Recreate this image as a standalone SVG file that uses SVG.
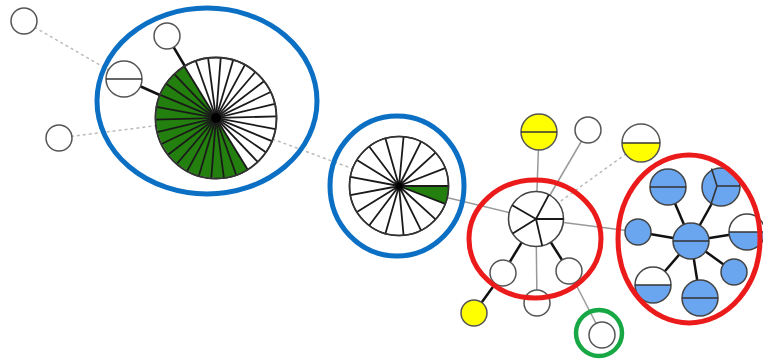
<svg xmlns="http://www.w3.org/2000/svg" width="763" height="362" viewBox="0 0 763 362">
<style>
.n{fill:#fff;stroke:#555;stroke-width:1.5}
.pie{fill:#fff;stroke:#222;stroke-width:1.5}
.sp{stroke:#1a1a1a;stroke-width:1.8;fill:none}
.grn{fill:#23800e;stroke:none}
.blu{fill:#6aa6ef;stroke:none}
.yel{fill:#ffff00;stroke:none}
.mid{stroke:#333;stroke-width:1.6}
.g{stroke:#999;stroke-width:1.5;fill:none}
.d{stroke:#bbb;stroke-width:1.5;stroke-dasharray:3 3;fill:none}
.k{stroke:#111;stroke-width:2.5;fill:none}
.bring{fill:none;stroke:#0b6fc4;stroke-width:5}
.rring{fill:none;stroke:#ec1b1b;stroke-width:5}
.gring{fill:none;stroke:#17a845;stroke-width:4.5}
</style>
<rect width="763" height="362" fill="#fff"/>
<g id="connectors">
<line class="d" x1="24" y1="21" x2="124" y2="79"/>
<line class="d" x1="59" y1="138" x2="216" y2="118"/>
<line class="d" x1="216" y1="118" x2="399" y2="186"/>
<line class="d" x1="641" y1="143" x2="536" y2="219"/>
<line class="g" x1="399" y1="186" x2="536" y2="219"/>
<line class="g" x1="539" y1="132" x2="536" y2="219"/>
<line class="g" x1="588" y1="130" x2="536" y2="219"/>
<line class="g" x1="536" y1="219" x2="638" y2="232"/>
<line class="g" x1="536" y1="219" x2="537" y2="303"/>
<line class="g" x1="569" y1="271" x2="602" y2="335"/>
<line class="k" x1="167" y1="36" x2="186" y2="68"/>
<line class="k" x1="124" y1="79" x2="162" y2="96"/>
<line class="k" x1="536" y1="219" x2="503" y2="273"/>
<line class="k" x1="536" y1="219" x2="569" y2="271"/>
<line class="k" x1="503" y1="273" x2="474" y2="313"/>
<line class="k" x1="691" y1="241" x2="668" y2="187"/>
<line class="k" x1="691" y1="241" x2="721" y2="187"/>
<line class="k" x1="691" y1="241" x2="747" y2="232"/>
<line class="k" x1="691" y1="241" x2="638" y2="232"/>
<line class="k" x1="691" y1="241" x2="734" y2="272"/>
<line class="k" x1="691" y1="241" x2="700" y2="298"/>
<line class="k" x1="691" y1="241" x2="653" y2="285"/>
</g>
<g id="n-topleft"><circle class="n" cx="24" cy="21" r="13"/></g>
<g id="n-left"><circle class="n" cx="59" cy="138" r="13"/></g>
<g id="n-top1"><circle class="n" cx="167" cy="36" r="13"/></g>
<g id="n-half1"><circle class="n" cx="124" cy="79" r="18"/><line class="mid" x1="106" y1="79" x2="142" y2="79"/></g>
<g id="pie1">
<circle class="pie" cx="216" cy="118" r="60.5"/>
<path class="grn" d="M216,118 L184.39,66.42 A60.5,60.5 0 0 0 247.61,169.58 Z"/>
<g class="sp">
<line x1="276.48" y1="116.42" x2="155.52" y2="119.58"/>
<line x1="274.83" y1="103.88" x2="157.17" y2="132.12"/>
<line x1="270.61" y1="91.95" x2="161.39" y2="144.05"/>
<line x1="264.00" y1="81.17" x2="168.00" y2="154.83"/>
<line x1="255.29" y1="72.00" x2="176.71" y2="164.00"/>
<line x1="244.87" y1="64.83" x2="187.13" y2="171.17"/>
<line x1="233.18" y1="59.99" x2="198.82" y2="176.01"/>
<line x1="220.75" y1="57.69" x2="211.25" y2="178.31"/>
<line x1="208.10" y1="58.02" x2="223.90" y2="177.98"/>
<line x1="195.80" y1="60.97" x2="236.20" y2="175.03"/>
<line x1="184.39" y1="66.42" x2="247.61" y2="169.58"/>
<line x1="174.35" y1="74.12" x2="257.65" y2="161.88"/>
<line x1="166.14" y1="83.73" x2="265.86" y2="152.27"/>
<line x1="160.11" y1="94.85" x2="271.89" y2="141.15"/>
<line x1="156.51" y1="106.97" x2="275.49" y2="129.03"/>
</g>
<circle cx="216" cy="118" r="60.5" fill="none" stroke="#333" stroke-width="1.8"/>
<circle cx="216" cy="118" r="5" fill="#000"/>
</g>
<g id="pie2">
<circle class="pie" cx="399" cy="186" r="49.5"/>
<path class="grn" d="M399,186 L448.5,186 A49.5,49.5 0 0 1 445.16,203.88 Z"/>
<path class="sp" stroke-width="1.6" d="M399,186 L448.5,186 M399,186 L445.16,168.12 M399,186 L435.58,152.65 M399,186 L421.06,141.69 M399,186 L403.57,136.71 M399,186 L385.45,138.39 M399,186 L369.17,146.50 M399,186 L356.91,159.94 M399,186 L350.34,176.90 M399,186 L350.34,195.10 M399,186 L356.91,212.06 M399,186 L369.17,225.50 M399,186 L385.45,233.61 M399,186 L403.57,235.29 M399,186 L421.06,230.31 M399,186 L435.58,219.35 M399,186 L445.16,203.88"/>
<circle cx="399" cy="186" r="49.5" fill="none" stroke="#333" stroke-width="1.6"/>
<circle cx="399" cy="186" r="3.5" fill="#000"/>
</g>
<g id="pie3">
<circle cx="536" cy="219" r="27.5" fill="#fff" stroke="#444" stroke-width="1.6"/>
<path class="sp" stroke-width="1.5" d="M536,219 L548.9,194.7 M536,219 L563.5,219 M536,219 L542.2,245.8 M536,219 L512.7,233.6 M536,219 L512.2,205.2"/>
</g>
<g id="n-yhalf-top"><circle cx="539" cy="132" r="18" fill="#ffff00" stroke="#555" stroke-width="1.5"/><line class="mid" x1="521" y1="132" x2="557" y2="132"/></g>
<g id="n-top-white"><circle class="n" cx="588" cy="130" r="13"/></g>
<g id="n-yhalf-right"><circle cx="641" cy="143" r="19" fill="#fff"/><path class="yel" d="M622,143 A19,19 0 0 0 660,143 Z"/><circle cx="641" cy="143" r="19" fill="none" stroke="#555" stroke-width="1.5"/><line class="mid" x1="622" y1="143" x2="660" y2="143"/></g>
<g id="n-bl"><circle class="n" cx="503" cy="273" r="13"/></g>
<g id="n-bm"><circle class="n" cx="537" cy="303" r="13"/></g>
<g id="n-br"><circle class="n" cx="569" cy="271" r="13"/></g>
<g id="n-yellow"><circle cx="474" cy="313" r="13" fill="#ffff00" stroke="#555" stroke-width="1.5"/></g>
<g id="n-green"><circle class="n" cx="602" cy="335" r="13"/></g>
<g id="b-center"><circle cx="691" cy="241" r="18" fill="#6aa6ef" stroke="#444" stroke-width="1.5"/><line class="mid" x1="673" y1="241" x2="709" y2="241"/></g>
<g id="b-tl"><circle cx="668" cy="187" r="18" fill="#6aa6ef" stroke="#444" stroke-width="1.5"/><line class="mid" x1="650" y1="187" x2="686" y2="187"/></g>
<g id="b-tr"><circle cx="721" cy="187" r="19" fill="#6aa6ef" stroke="#444" stroke-width="1.5"/><path class="mid" fill="none" d="M717,186 L711.5,168.5 M717,186 L740,186 M717,186 L710.5,205.5"/></g>
<g id="b-r"><circle cx="747" cy="232" r="18" fill="#fff"/><path class="blu" d="M729,232 A18,18 0 0 0 765,232 Z"/><circle cx="747" cy="232" r="18" fill="none" stroke="#444" stroke-width="1.5"/><line class="mid" x1="729" y1="232" x2="765" y2="232"/></g>
<g id="b-l"><circle cx="638" cy="232" r="13" fill="#6aa6ef" stroke="#444" stroke-width="1.5"/></g>
<g id="b-br"><circle cx="734" cy="272" r="13" fill="#6aa6ef" stroke="#444" stroke-width="1.5"/></g>
<g id="b-b"><circle cx="700" cy="298" r="18" fill="#6aa6ef" stroke="#444" stroke-width="1.5"/><line class="mid" x1="682" y1="298" x2="718" y2="298"/></g>
<g id="b-bl"><circle cx="653" cy="285" r="18" fill="#fff"/><path class="blu" d="M635,285 A18,18 0 0 0 671,285 Z"/><circle cx="653" cy="285" r="18" fill="none" stroke="#444" stroke-width="1.5"/><line class="mid" x1="635" y1="285" x2="671" y2="285"/></g>
<g id="highlights">
<ellipse class="bring" cx="207" cy="101" rx="110" ry="93"/>
<ellipse class="bring" cx="397" cy="186" rx="67" ry="70"/>
<ellipse class="rring" cx="535" cy="239" rx="66" ry="59"/>
<ellipse class="rring" cx="689" cy="239" rx="71" ry="84"/>
<circle class="gring" cx="599" cy="333" r="23"/>
</g>
</svg>
